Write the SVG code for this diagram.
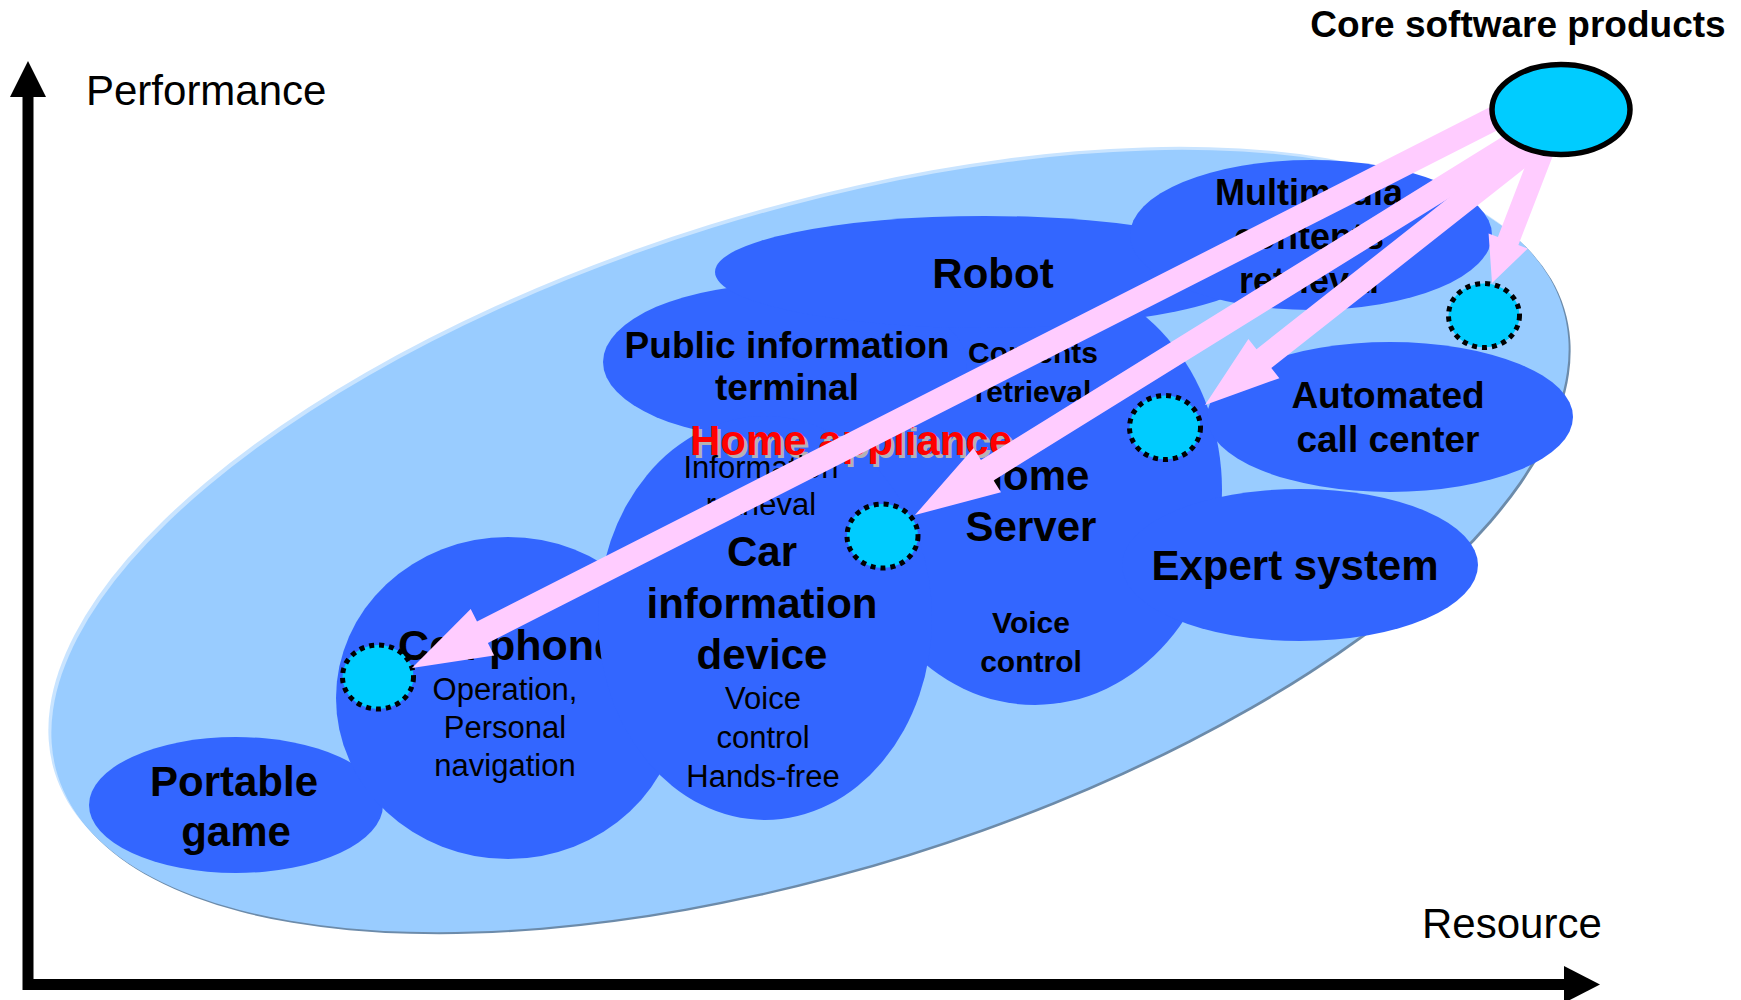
<svg xmlns="http://www.w3.org/2000/svg" width="1741" height="1000" viewBox="0 0 1741 1000">
<defs>
<style>
.t{font-family:"Liberation Sans",Arial,Helvetica,sans-serif;fill:#000;text-anchor:middle}
.b{font-weight:bold}
.blob{fill:#3366FF}
.dot{fill:#00CCFF;stroke:#000;stroke-width:5;stroke-dasharray:5 5}
.arrow{fill:#FFCCFF}
.ax{font-family:"Liberation Sans",Arial,Helvetica,sans-serif;font-size:42px;fill:#000}
</style>
</defs>
<rect width="1741" height="1000" fill="#FFFFFF"/>

<g id="axes">
  <path d="M28,95 V984.5 H1566" fill="none" stroke="#000" stroke-width="11" stroke-linejoin="miter"/>
  <polygon points="28,61 10,97 46,97" fill="#000"/>
  <polygon points="1600,984.5 1564,966 1564,1003" fill="#000"/>
  <text class="ax" x="86" y="105">Performance</text>
  <text class="ax" x="1422" y="938">Resource</text>
</g>

<g id="scope">
  <ellipse transform="translate(807 538) rotate(-17.3)" rx="788" ry="328" fill="#C9E4FF"/>
  <ellipse transform="translate(812 543) rotate(-17.3)" rx="788" ry="328" fill="#6C8BAA"/>
  <ellipse transform="translate(810 541) rotate(-17.3)" rx="788" ry="328" fill="#99CCFF"/>
</g>

<g id="home-server">
  <ellipse class="blob" cx="1035" cy="490" rx="187" ry="215"/>
  <text class="t b" font-size="42"><tspan x="1031" y="490">Home</tspan><tspan x="1031" y="541">Server</tspan></text>
  <text class="t b" font-size="30"><tspan x="1031" y="633">Voice</tspan><tspan x="1031" y="672">control</tspan></text>
</g>

<g id="public-information-terminal">
  <ellipse class="blob" cx="785" cy="362" rx="182" ry="78"/>
  <text class="t b" font-size="37"><tspan x="787" y="358">Public information</tspan><tspan x="787" y="400">terminal</tspan></text>
</g>

<g id="robot">
  <ellipse class="blob" cx="985" cy="272" rx="270" ry="56"/>
  <text class="t b" font-size="42" x="993" y="288">Robot</text>
  <text class="t b" font-size="30"><tspan x="1033" y="363">Contents</tspan><tspan x="1033" y="402">retrieval</tspan></text>
</g>

<g id="multimedia-contents-retrieval">
  <ellipse class="blob" cx="1311" cy="235" rx="181" ry="75"/>
  <text class="t b" font-size="36"><tspan x="1309" y="205">Multimedia</tspan><tspan x="1309" y="249">contents</tspan><tspan x="1309" y="293">retrieval</tspan></text>
</g>

<g id="automated-call-center">
  <ellipse class="blob" cx="1390" cy="417" rx="183" ry="75"/>
  <text class="t b" font-size="37"><tspan x="1388" y="408">Automated</tspan><tspan x="1388" y="452">call center</tspan></text>
</g>

<g id="expert-system">
  <ellipse class="blob" cx="1300" cy="565" rx="178" ry="76"/>
  <text class="t b" font-size="42" x="1295" y="580">Expert system</text>
</g>

<g id="portable-game">
  <ellipse class="blob" cx="236" cy="805" rx="147" ry="68"/>
  <text class="t b" font-size="42"><tspan x="234" y="796">Portable</tspan><tspan x="236" y="846">game</tspan></text>
</g>

<g id="cell-phone">
  <ellipse class="blob" cx="508" cy="698" rx="172" ry="161"/>
  <text class="t b" font-size="43" x="508" y="660">Cell phone</text>
  <text class="t" font-size="31"><tspan x="505" y="700">Operation,</tspan><tspan x="505" y="738">Personal</tspan><tspan x="505" y="776">navigation</tspan></text>
</g>

<g id="car-information-device">
  <ellipse class="blob" cx="765" cy="618" rx="167" ry="202"/>
  <text class="t b" font-size="42"><tspan x="762" y="566">Car</tspan><tspan x="762" y="618">information</tspan><tspan x="762" y="669">device</tspan></text>
  <text class="t" font-size="31"><tspan x="763" y="709">Voice</tspan><tspan x="763" y="748">control</tspan><tspan x="763" y="787">Hands-free</tspan></text>
</g>

<g id="home-appliance">
  <text class="t b" font-size="42" x="854" y="458" style="fill:#B3B3B3">Home appliance</text>
  <text class="t b" font-size="42" x="851" y="455" style="fill:#FF0000">Home appliance</text>
  <text class="t" font-size="31"><tspan x="761" y="478">Information</tspan><tspan x="761" y="515">retrieval</tspan></text>
</g>

<g id="deployment-points">
  <ellipse class="dot" cx="378" cy="677" rx="35.5" ry="32"/>
  <ellipse class="dot" cx="882.5" cy="536" rx="35.5" ry="32"/>
  <ellipse class="dot" cx="1165" cy="427.5" rx="35.5" ry="32"/>
  <ellipse class="dot" cx="1484" cy="315.5" rx="35.5" ry="32"/>
</g>

<g id="connectors">
  <polygon class="arrow" points="1489.6,107.3 477.0,621.5 470.7,609.1 412,668 494.2,655.4 487.9,642.9 1500.4,128.7"/>
  <polygon class="arrow" points="1513.7,129.8 980.9,460.0 973.6,448.1 915,515 1001.0,492.3 993.6,480.4 1526.3,150.2"/>
  <polygon class="arrow" points="1527.6,135.6 1256.5,349.2 1248.4,338.9 1205,405 1279.4,378.2 1271.3,368.0 1542.4,154.4"/>
  <polygon class="arrow" points="1533.7,144.1 1497.9,237.1 1488.6,233.5 1492,283 1527.8,248.6 1518.4,245.0 1554.3,152.0"/>
</g>

<g id="core-software-products">
  <ellipse cx="1561" cy="109.5" rx="69" ry="45" fill="#00CCFF" stroke="#000" stroke-width="5.5"/>
  <text class="t b" font-size="37" x="1518" y="37">Core software products</text>
</g>
</svg>
